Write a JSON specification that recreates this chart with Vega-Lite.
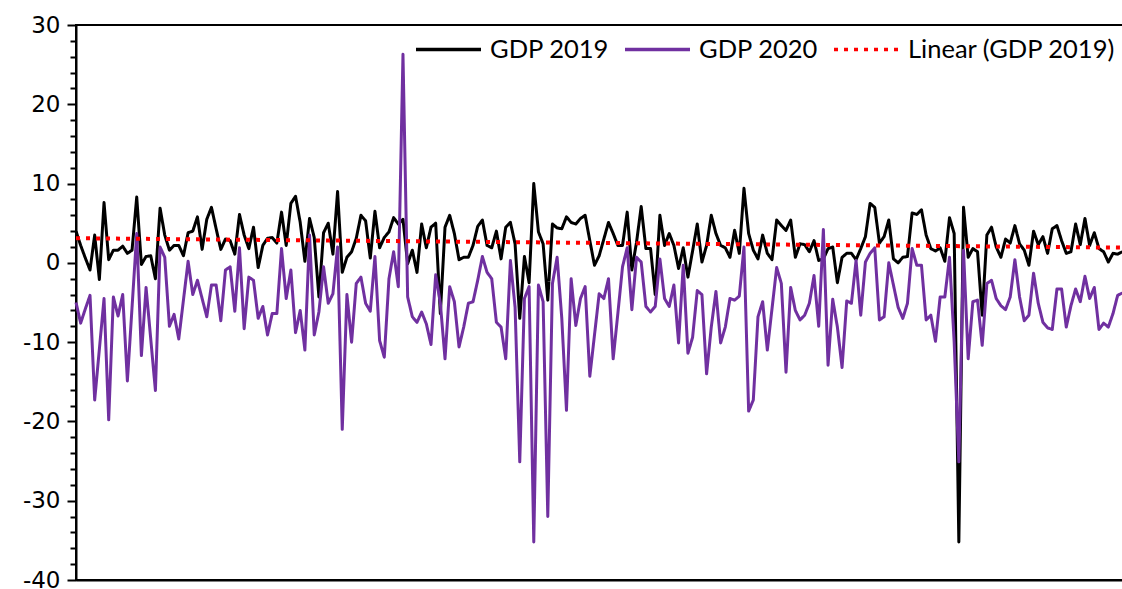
{
"$schema": "https://vega.github.io/schema/vega-lite/v6.json",
"width": 1051, "height": 555,
"autosize": {"type": "none"},
"padding": {"left": 76, "top": 25, "right": 0, "bottom": 9},
"background": "white",
"config": {"view": {"stroke": "black", "strokeWidth": 2}},
"data": {"values": [
{"d":0,"gdp2019":4.0,"gdp2020":-5.0},{"d":1,"gdp2019":2.2,"gdp2020":-7.6},{"d":2,"gdp2019":0.6,"gdp2020":-5.8},{"d":3,"gdp2019":-0.9,"gdp2020":-4.1},{"d":4,"gdp2019":3.5,"gdp2020":-17.3},
{"d":5,"gdp2019":-2.1,"gdp2020":-10.9},{"d":6,"gdp2019":7.6,"gdp2020":-4.5},{"d":7,"gdp2019":0.4,"gdp2020":-19.8},{"d":8,"gdp2019":1.6,"gdp2020":-4.3},{"d":9,"gdp2019":1.6,"gdp2020":-6.7},
{"d":10,"gdp2019":2.1,"gdp2020":-4.0},{"d":11,"gdp2019":1.2,"gdp2020":-14.9},{"d":12,"gdp2019":1.6,"gdp2020":-5.6},{"d":13,"gdp2019":8.3,"gdp2020":3.7},{"d":14,"gdp2019":-0.2,"gdp2020":-11.7},
{"d":15,"gdp2019":0.8,"gdp2020":-3.1},{"d":16,"gdp2019":0.9,"gdp2020":-9.6},{"d":17,"gdp2019":-2.0,"gdp2020":-16.1},{"d":18,"gdp2019":6.9,"gdp2020":2.0},{"d":19,"gdp2019":3.5,"gdp2020":0.7},
{"d":20,"gdp2019":1.6,"gdp2020":-8.0},{"d":21,"gdp2019":2.2,"gdp2020":-6.5},{"d":22,"gdp2019":2.2,"gdp2020":-9.6},{"d":23,"gdp2019":0.9,"gdp2020":-4.7},{"d":24,"gdp2019":3.8,"gdp2020":0.2},
{"d":25,"gdp2019":4.0,"gdp2020":-4.0},{"d":26,"gdp2019":5.8,"gdp2020":-2.2},{"d":27,"gdp2019":1.7,"gdp2020":-4.5},{"d":28,"gdp2019":5.5,"gdp2020":-6.8},{"d":29,"gdp2019":7.0,"gdp2020":-2.8},
{"d":30,"gdp2019":4.3,"gdp2020":-2.8},{"d":31,"gdp2019":1.7,"gdp2020":-7.3},{"d":32,"gdp2019":3.0,"gdp2020":-0.9},{"d":33,"gdp2019":2.8,"gdp2020":-0.5},{"d":34,"gdp2019":1.1,"gdp2020":-6.1},
{"d":35,"gdp2019":6.1,"gdp2020":1.9},{"d":36,"gdp2019":3.5,"gdp2020":-8.3},{"d":37,"gdp2019":1.8,"gdp2020":-1.8},{"d":38,"gdp2019":4.5,"gdp2020":-2.2},{"d":39,"gdp2019":-0.6,"gdp2020":-7.0},
{"d":40,"gdp2019":2.2,"gdp2020":-5.5},{"d":41,"gdp2019":3.1,"gdp2020":-9.1},{"d":42,"gdp2019":3.2,"gdp2020":-6.4},{"d":43,"gdp2019":2.5,"gdp2020":-6.4},{"d":44,"gdp2019":6.4,"gdp2020":1.8},
{"d":45,"gdp2019":2.2,"gdp2020":-4.5},{"d":46,"gdp2019":7.5,"gdp2020":-0.9},{"d":47,"gdp2019":8.4,"gdp2020":-8.8},{"d":48,"gdp2019":5.1,"gdp2020":-6.0},{"d":49,"gdp2019":0.2,"gdp2020":-11.0},
{"d":50,"gdp2019":5.6,"gdp2020":3.5},{"d":51,"gdp2019":3.2,"gdp2020":-9.1},{"d":52,"gdp2019":-4.3,"gdp2020":-6.2},{"d":53,"gdp2019":3.8,"gdp2020":-0.5},{"d":54,"gdp2019":5.0,"gdp2020":-5.1},
{"d":55,"gdp2019":1.1,"gdp2020":-3.9},{"d":56,"gdp2019":9.0,"gdp2020":2.0},{"d":57,"gdp2019":-1.2,"gdp2020":-21.0},{"d":58,"gdp2019":0.7,"gdp2020":-4.0},{"d":59,"gdp2019":1.4,"gdp2020":-10.0},
{"d":60,"gdp2019":3.1,"gdp2020":-2.6},{"d":61,"gdp2019":6.0,"gdp2020":-1.8},{"d":62,"gdp2019":5.3,"gdp2020":-5.1},{"d":63,"gdp2019":0.6,"gdp2020":-6.1},{"d":64,"gdp2019":6.5,"gdp2020":0.8},
{"d":65,"gdp2019":1.9,"gdp2020":-9.8},{"d":66,"gdp2019":3.2,"gdp2020":-11.9},{"d":67,"gdp2019":3.9,"gdp2020":-2.0},{"d":68,"gdp2019":5.7,"gdp2020":1.4},{"d":69,"gdp2019":4.9,"gdp2020":-3.0},
{"d":70,"gdp2019":5.5,"gdp2020":26.3},{"d":71,"gdp2019":-0.1,"gdp2020":-4.3},{"d":72,"gdp2019":1.6,"gdp2020":-6.8},{"d":73,"gdp2019":-1.2,"gdp2020":-7.5},{"d":74,"gdp2019":4.9,"gdp2020":-6.2},
{"d":75,"gdp2019":1.9,"gdp2020":-7.7},{"d":76,"gdp2019":4.5,"gdp2020":-10.3},{"d":77,"gdp2019":5.0,"gdp2020":-1.5},{"d":78,"gdp2019":-6.4,"gdp2020":-5.1},{"d":79,"gdp2019":4.5,"gdp2020":-12.1},
{"d":80,"gdp2019":6.0,"gdp2020":-3.0},{"d":81,"gdp2019":3.7,"gdp2020":-4.9},{"d":82,"gdp2019":0.4,"gdp2020":-10.6},{"d":83,"gdp2019":0.7,"gdp2020":-8.1},{"d":84,"gdp2019":0.7,"gdp2020":-5.1},
{"d":85,"gdp2019":2.2,"gdp2020":-4.9},{"d":86,"gdp2019":4.6,"gdp2020":-2.2},{"d":87,"gdp2019":5.4,"gdp2020":0.8},{"d":88,"gdp2019":2.2,"gdp2020":-1.2},{"d":89,"gdp2019":1.9,"gdp2020":-2.0},
{"d":90,"gdp2019":4.0,"gdp2020":-7.5},{"d":91,"gdp2019":0.5,"gdp2020":-8.1},{"d":92,"gdp2019":4.5,"gdp2020":-12.1},{"d":93,"gdp2019":5.1,"gdp2020":0.3},{"d":94,"gdp2019":2.4,"gdp2020":-5.6},
{"d":95,"gdp2019":-7.0,"gdp2020":-25.1},{"d":96,"gdp2019":0.8,"gdp2020":-4.5},{"d":97,"gdp2019":-2.5,"gdp2020":-3.0},{"d":98,"gdp2019":10.0,"gdp2020":-35.2},{"d":99,"gdp2019":3.9,"gdp2020":-2.8},
{"d":100,"gdp2019":2.4,"gdp2020":-4.9},{"d":101,"gdp2019":-4.7,"gdp2020":-32.0},{"d":102,"gdp2019":4.9,"gdp2020":-2.6},{"d":103,"gdp2019":4.4,"gdp2020":0.7},{"d":104,"gdp2019":4.3,"gdp2020":-7.0},
{"d":105,"gdp2019":5.8,"gdp2020":-18.6},{"d":106,"gdp2019":5.1,"gdp2020":-2.0},{"d":107,"gdp2019":4.9,"gdp2020":-7.9},{"d":108,"gdp2019":5.6,"gdp2020":-4.5},{"d":109,"gdp2019":6.0,"gdp2020":-3.0},
{"d":110,"gdp2019":2.8,"gdp2020":-14.3},{"d":111,"gdp2019":-0.3,"gdp2020":-9.1},{"d":112,"gdp2019":0.9,"gdp2020":-3.9},{"d":113,"gdp2019":3.0,"gdp2020":-4.5},{"d":114,"gdp2019":5.1,"gdp2020":-2.0},
{"d":115,"gdp2019":3.7,"gdp2020":-12.1},{"d":116,"gdp2019":2.2,"gdp2020":-6.4},{"d":117,"gdp2019":2.2,"gdp2020":-0.5},{"d":118,"gdp2019":6.4,"gdp2020":1.9},{"d":119,"gdp2019":-0.9,"gdp2020":-5.9},
{"d":120,"gdp2019":2.6,"gdp2020":0.7},{"d":121,"gdp2019":7.1,"gdp2020":0.1},{"d":122,"gdp2019":1.8,"gdp2020":-5.5},{"d":123,"gdp2019":1.8,"gdp2020":-6.2},{"d":124,"gdp2019":-4.0,"gdp2020":-5.5},
{"d":125,"gdp2019":6.0,"gdp2020":0.5},{"d":126,"gdp2019":2.2,"gdp2020":-4.5},{"d":127,"gdp2019":3.7,"gdp2020":-5.5},{"d":128,"gdp2019":2.2,"gdp2020":-2.8},{"d":129,"gdp2019":-0.7,"gdp2020":-10.1},
{"d":130,"gdp2019":1.9,"gdp2020":-0.3},{"d":131,"gdp2019":-1.8,"gdp2020":-11.4},{"d":132,"gdp2019":1.5,"gdp2020":-9.4},{"d":133,"gdp2019":4.9,"gdp2020":-3.5},{"d":134,"gdp2019":0.1,"gdp2020":-4.0},
{"d":135,"gdp2019":2.2,"gdp2020":-14.0},{"d":136,"gdp2019":6.0,"gdp2020":-8.1},{"d":137,"gdp2019":3.7,"gdp2020":-3.6},{"d":138,"gdp2019":2.2,"gdp2020":-10.1},{"d":139,"gdp2019":1.9,"gdp2020":-8.1},
{"d":140,"gdp2019":0.7,"gdp2020":-4.5},{"d":141,"gdp2019":4.1,"gdp2020":-4.7},{"d":142,"gdp2019":1.2,"gdp2020":-4.2},{"d":143,"gdp2019":9.4,"gdp2020":2.0},{"d":144,"gdp2019":3.7,"gdp2020":-18.7},
{"d":145,"gdp2019":1.6,"gdp2020":-17.3},{"d":146,"gdp2019":0.5,"gdp2020":-6.8},{"d":147,"gdp2019":3.5,"gdp2020":-4.9},{"d":148,"gdp2019":1.2,"gdp2020":-11.0},{"d":149,"gdp2019":0.4,"gdp2020":-5.8},
{"d":150,"gdp2019":5.4,"gdp2020":-0.6},{"d":151,"gdp2019":4.7,"gdp2020":-2.6},{"d":152,"gdp2019":4.1,"gdp2020":-13.8},{"d":153,"gdp2019":5.4,"gdp2020":-3.1},{"d":154,"gdp2019":0.7,"gdp2020":-6.0},
{"d":155,"gdp2019":2.4,"gdp2020":-7.2},{"d":156,"gdp2019":2.3,"gdp2020":-6.6},{"d":157,"gdp2019":1.4,"gdp2020":-5.1},{"d":158,"gdp2019":2.8,"gdp2020":-1.6},{"d":159,"gdp2019":0.3,"gdp2020":-8.0},
{"d":160,"gdp2019":0.5,"gdp2020":4.2},{"d":161,"gdp2019":1.8,"gdp2020":-12.9},{"d":162,"gdp2019":2.0,"gdp2020":-4.6},{"d":163,"gdp2019":-2.5,"gdp2020":-8.1},{"d":164,"gdp2019":0.7,"gdp2020":-13.2},
{"d":165,"gdp2019":1.2,"gdp2020":-4.8},{"d":166,"gdp2019":1.2,"gdp2020":-5.1},{"d":167,"gdp2019":0.4,"gdp2020":0.3},{"d":168,"gdp2019":1.8,"gdp2020":-6.6},{"d":169,"gdp2019":3.3,"gdp2020":0.1},
{"d":170,"gdp2019":7.5,"gdp2020":1.2},{"d":171,"gdp2019":7.0,"gdp2020":1.9},{"d":172,"gdp2019":2.5,"gdp2020":-7.2},{"d":173,"gdp2019":3.3,"gdp2020":-6.8},{"d":174,"gdp2019":5.4,"gdp2020":0.0},
{"d":175,"gdp2019":0.5,"gdp2020":-2.8},{"d":176,"gdp2019":0.0,"gdp2020":-5.6},{"d":177,"gdp2019":0.7,"gdp2020":-7.0},{"d":178,"gdp2019":0.8,"gdp2020":-5.1},{"d":179,"gdp2019":6.3,"gdp2020":1.8},
{"d":180,"gdp2019":6.1,"gdp2020":-0.3},{"d":181,"gdp2019":6.7,"gdp2020":-0.3},{"d":182,"gdp2019":3.5,"gdp2020":-7.2},{"d":183,"gdp2019":1.8,"gdp2020":-6.6},{"d":184,"gdp2019":1.5,"gdp2020":-9.9},
{"d":185,"gdp2019":1.9,"gdp2020":-4.3},{"d":186,"gdp2019":0.2,"gdp2020":-4.3},{"d":187,"gdp2019":5.7,"gdp2020":0.7},{"d":188,"gdp2019":3.7,"gdp2020":-10.0},{"d":189,"gdp2019":-35.2,"gdp2020":-25.1},
{"d":190,"gdp2019":7.0,"gdp2020":1.6},{"d":191,"gdp2019":0.7,"gdp2020":-12.1},{"d":192,"gdp2019":1.8,"gdp2020":-4.9},{"d":193,"gdp2019":1.4,"gdp2020":-4.7},{"d":194,"gdp2019":-6.6,"gdp2020":-10.4},
{"d":195,"gdp2019":3.5,"gdp2020":-2.6},{"d":196,"gdp2019":4.5,"gdp2020":-2.2},{"d":197,"gdp2019":2.0,"gdp2020":-4.5},{"d":198,"gdp2019":0.7,"gdp2020":-5.4},{"d":199,"gdp2019":3.0,"gdp2020":-5.9},
{"d":200,"gdp2019":2.5,"gdp2020":-4.3},{"d":201,"gdp2019":4.7,"gdp2020":0.4},{"d":202,"gdp2019":2.4,"gdp2020":-4.3},{"d":203,"gdp2019":1.6,"gdp2020":-7.3},{"d":204,"gdp2019":-0.3,"gdp2020":-6.6},
{"d":205,"gdp2019":4.0,"gdp2020":-1.3},{"d":206,"gdp2019":2.3,"gdp2020":-5.1},{"d":207,"gdp2019":3.3,"gdp2020":-7.5},{"d":208,"gdp2019":1.2,"gdp2020":-8.2},{"d":209,"gdp2019":4.3,"gdp2020":-8.4},
{"d":210,"gdp2019":4.7,"gdp2020":-3.3},{"d":211,"gdp2019":2.8,"gdp2020":-3.3},{"d":212,"gdp2019":1.2,"gdp2020":-8.1},{"d":213,"gdp2019":1.4,"gdp2020":-5.4},{"d":214,"gdp2019":4.9,"gdp2020":-3.3},
{"d":215,"gdp2019":2.3,"gdp2020":-4.9},{"d":216,"gdp2019":5.6,"gdp2020":-1.7},{"d":217,"gdp2019":2.2,"gdp2020":-4.5},{"d":218,"gdp2019":3.8,"gdp2020":-3.1},{"d":219,"gdp2019":1.8,"gdp2020":-8.4},
{"d":220,"gdp2019":1.4,"gdp2020":-7.6},{"d":221,"gdp2019":0.1,"gdp2020":-8.1},{"d":222,"gdp2019":1.2,"gdp2020":-6.4},{"d":223,"gdp2019":1.1,"gdp2020":-4.1},{"d":224,"gdp2019":1.4,"gdp2020":-3.8}
]},
"encoding": {
  "x": {"field": "d", "type": "quantitative",
        "scale": {"domain": [0, 225], "nice": false, "zero": false},
        "axis": {"labels": false, "ticks": false, "grid": false, "title": null, "domain": true, "domainColor": "black", "domainWidth": 2}},
  "y": {"field": "value", "type": "quantitative",
        "scale": {"domain": [-40, 30], "nice": false, "zero": false},
        "axis": {"values": [-40,-38,-36,-34,-32,-30,-28,-26,-24,-22,-20,-18,-16,-14,-12,-10,-8,-6,-4,-2,0,2,4,6,8,10,12,14,16,18,20,22,24,26,28,30],
                 "labelExpr": "datum.value % 10 === 0 ? '' + datum.value : ''",
                 "tickSize": {"condition": {"test": "datum.value % 10 === 0", "value": 9}, "value": 6},
                 "tickWidth": 2, "tickColor": "black", "domainColor": "black", "domainWidth": 2,
                 "labelFont": "DejaVu Sans", "labelFontSize": 23, "labelColor": "black", "labelPadding": 7,
                 "labelOverlap": false, "labelFlush": false, "grid": false, "title": null}}
},
"layer": [
  {
    "transform": [{"fold": ["gdp2019", "gdp2020"], "as": ["series", "value"]}],
    "mark": {"type": "line", "strokeWidth": 3, "strokeJoin": "round"},
    "encoding": {
      "stroke": {"field": "series", "type": "nominal",
                 "scale": {"domain": ["gdp2019", "gdp2020", "trend"], "range": ["#000000", "#7030A0", "#FF0000"]},
                 "legend": {"orient": "none", "legendX": 338, "legendY": -10, "direction": "horizontal", "title": null,
                            "symbolType": "stroke", "symbolSize": 4225, "symbolStrokeWidth": 3.5,
                            "labelFont": "Lato", "labelFontSize": 25.5, "labelColor": "black", "labelOffset": 7,
                            "columnPadding": 8, "labelLimit": 0,
                            "labelExpr": "datum.label == 'gdp2019' ? 'GDP 2019' : datum.label == 'gdp2020' ? 'GDP 2020' : 'Linear (GDP 2019)'"}},
      "strokeDash": {"field": "series", "type": "nominal",
                     "scale": {"domain": ["gdp2019", "gdp2020", "trend"], "range": [[1, 0], [1, 0], [4, 6]]}}
    }
  },
  {
    "transform": [{"regression": "gdp2019", "on": "d", "as": ["d", "value"]}],
    "mark": {"type": "line", "strokeWidth": 4},
    "encoding": {
      "stroke": {"datum": "trend"},
      "strokeDash": {"datum": "trend"}
    }
  }
]
}
